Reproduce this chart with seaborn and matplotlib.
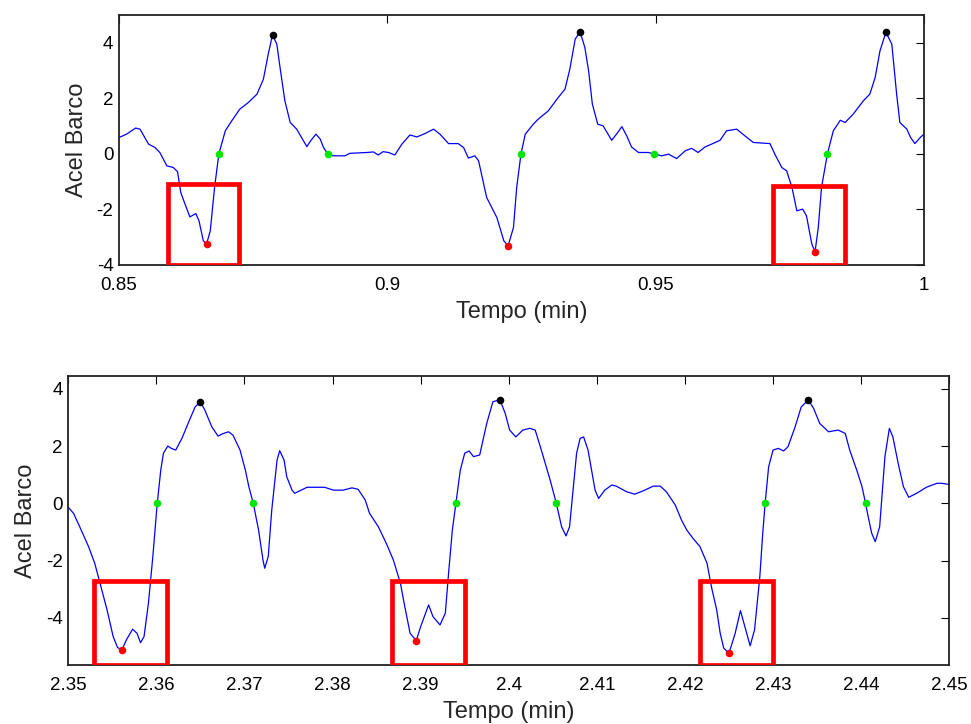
import numpy as np
import pandas as pd
import matplotlib
matplotlib.use("Agg")
import matplotlib.pyplot as plt
from matplotlib.patches import Rectangle
import seaborn as sns

# ---------------- upper window: 0.85 - 1.00 min ----------------
t_top = [0.8500, 0.8514, 0.8531, 0.8539, 0.8555, 0.8567, 0.8576, 0.8589, 0.8601, 0.8609,
         0.8615, 0.8623, 0.8632, 0.8643, 0.8649, 0.8657, 0.8663, 0.8670, 0.8678, 0.8686,
         0.8698, 0.8710, 0.8725, 0.8741, 0.8757, 0.8769, 0.8778, 0.8786, 0.8794, 0.8800,
         0.8809, 0.8819, 0.8831, 0.8840, 0.8850, 0.8857, 0.8867, 0.8875, 0.8881, 0.8889,
         0.8899, 0.8921, 0.8930, 0.8962, 0.8974, 0.8983, 0.8992, 0.9002, 0.9014, 0.9027,
         0.9042, 0.9055, 0.9070, 0.9086, 0.9098, 0.9114, 0.9132, 0.9142, 0.9151, 0.9163,
         0.9170, 0.9185, 0.9204, 0.9217, 0.9225, 0.9235, 0.9241, 0.9249, 0.9257, 0.9272,
         0.9281, 0.9300, 0.9316, 0.9331, 0.9340, 0.9350, 0.9359, 0.9368, 0.9375, 0.9382,
         0.9392, 0.9402, 0.9418, 0.9427, 0.9437, 0.9446, 0.9455, 0.9468, 0.9486, 0.9497,
         0.9511, 0.9524, 0.9539, 0.9555, 0.9567, 0.9579, 0.9592, 0.9604, 0.9620, 0.9632,
         0.9651, 0.9670, 0.9682, 0.9713, 0.9722, 0.9735, 0.9744, 0.9754, 0.9763, 0.9774,
         0.9781, 0.9791, 0.9797, 0.9803, 0.9809, 0.9820, 0.9831, 0.9844, 0.9853, 0.9868,
         0.9887, 0.9899, 0.9909, 0.9918, 0.9929, 0.9940, 0.9949, 0.9955, 0.9968, 0.9975,
         0.9983, 0.9993, 1.0000]
a_top = [0.59, 0.71, 0.93, 0.89, 0.35, 0.23, 0.05, -0.43, -0.49, -0.64,
         -1.39, -1.81, -2.27, -2.15, -2.41, -3.13, -3.25, -2.77, -1.21, 0.00,
         0.83, 1.19, 1.61, 1.85, 2.15, 2.69, 3.59, 4.29, 3.95, 3.11,
         1.91, 1.13, 0.89, 0.59, 0.26, 0.47, 0.71, 0.53, 0.23, 0.00,
         -0.07, -0.07, 0.02, 0.05, 0.07, -0.04, 0.08, 0.05, -0.04, 0.35,
         0.68, 0.61, 0.73, 0.89, 0.71, 0.37, 0.37, 0.23, -0.15, -0.07,
         -0.25, -1.57, -2.29, -3.13, -3.31, -2.65, -1.21, 0.00, 0.71, 1.07,
         1.25, 1.55, 1.97, 2.33, 3.05, 4.13, 4.40, 3.83, 2.99, 1.79,
         1.07, 1.01, 0.49, 0.71, 0.98, 0.65, 0.25, 0.05, 0.05, 0.00,
         -0.07, -0.01, -0.17, 0.11, 0.20, 0.05, 0.25, 0.35, 0.49, 0.83,
         0.89, 0.59, 0.41, 0.37, -0.01, -0.49, -0.61, -1.21, -2.05, -1.99,
         -2.23, -3.25, -3.52, -2.65, -1.21, 0.00, 0.83, 1.21, 1.13, 1.43,
         1.91, 2.15, 2.75, 3.71, 4.38, 3.95, 2.15, 1.13, 0.89, 0.59,
         0.37, 0.59, 0.71]

top_max_t = [0.8786, 0.9359, 0.9929]
top_max_a = [4.29, 4.40, 4.38]
top_min_t = [0.8663, 0.9225, 0.9797]
top_min_a = [-3.25, -3.31, -3.52]
top_zero_t = [0.8686, 0.8889, 0.9249, 0.9497, 0.9820]
top_zero_a = [0.0, 0.0, 0.0, 0.0, 0.0]

# highlighted windows: (start, end, upper level)
top_boxes = [(0.8591, 0.8723, -1.08), (0.9718, 0.9853, -1.14)]

# ---------------- lower window: 2.35 - 2.45 min ----------------
t_bot = [2.3500, 2.3506, 2.3513, 2.3523, 2.3530, 2.3536, 2.3544, 2.3551, 2.3556, 2.3561,
         2.3566, 2.3573, 2.3578, 2.3582, 2.3586, 2.3591, 2.3596, 2.3601, 2.3605, 2.3608,
         2.3613, 2.3617, 2.3622, 2.3629, 2.3636, 2.3644, 2.3650, 2.3655, 2.3663, 2.3670,
         2.3676, 2.3682, 2.3687, 2.3695, 2.3701, 2.3705, 2.3710, 2.3716, 2.3721, 2.3723,
         2.3727, 2.3731, 2.3737, 2.3740, 2.3745, 2.3748, 2.3754, 2.3757, 2.3763, 2.3771,
         2.3791, 2.3801, 2.3812, 2.3822, 2.3829, 2.3837, 2.3842, 2.3852, 2.3861, 2.3869,
         2.3877, 2.3882, 2.3888, 2.3895, 2.3900, 2.3909, 2.3914, 2.3922, 2.3928, 2.3932,
         2.3936, 2.3940, 2.3945, 2.3950, 2.3955, 2.3960, 2.3967, 2.3975, 2.3982, 2.3990,
         2.3996, 2.4001, 2.4008, 2.4016, 2.4024, 2.4030, 2.4037, 2.4047, 2.4054, 2.4060,
         2.4065, 2.4069, 2.4077, 2.4081, 2.4085, 2.4090, 2.4098, 2.4102, 2.4109, 2.4117,
         2.4122, 2.4134, 2.4143, 2.4153, 2.4164, 2.4172, 2.4179, 2.4189, 2.4196, 2.4202,
         2.4209, 2.4217, 2.4225, 2.4230, 2.4236, 2.4240, 2.4244, 2.4250, 2.4257, 2.4263,
         2.4268, 2.4274, 2.4279, 2.4285, 2.4288, 2.4291, 2.4295, 2.4300, 2.4306, 2.4312,
         2.4317, 2.4325, 2.4332, 2.4340, 2.4346, 2.4353, 2.4363, 2.4374, 2.4382, 2.4387,
         2.4395, 2.4401, 2.4405, 2.4408, 2.4412, 2.4416, 2.4421, 2.4427, 2.4432, 2.4436,
         2.4442, 2.4448, 2.4454, 2.4463, 2.4474, 2.4486, 2.4491, 2.4500]
a_bot = [-0.14, -0.35, -0.82, -1.51, -2.09, -2.79, -3.72, -4.66, -5.04, -5.12,
         -4.77, -4.40, -4.54, -4.87, -4.66, -3.49, -1.86, 0.00, 1.16, 1.75,
         2.00, 1.92, 1.86, 2.27, 2.79, 3.37, 3.55, 3.26, 2.67, 2.35,
         2.44, 2.50, 2.38, 1.86, 1.16, 0.58, 0.00, -0.93, -1.98, -2.27,
         -1.86, -0.23, 1.51, 1.84, 1.51, 0.93, 0.46, 0.35, 0.44, 0.56,
         0.56, 0.46, 0.46, 0.54, 0.49, 0.12, -0.35, -0.82, -1.40, -1.98,
         -2.79, -3.61, -4.54, -4.80, -4.31, -3.55, -3.96, -4.25, -3.84, -2.33,
         -0.93, 0.00, 1.16, 1.75, 1.83, 1.63, 1.69, 2.79, 3.55, 3.62,
         3.14, 2.56, 2.32, 2.56, 2.62, 2.56, 1.86, 0.81, 0.00, -0.82,
         -1.14, -0.82, 1.75, 2.27, 2.32, 1.86, 0.46, 0.17, 0.46, 0.64,
         0.60, 0.40, 0.32, 0.44, 0.60, 0.60, 0.40, -0.06, -0.58, -0.93,
         -1.22, -1.51, -2.09, -2.91, -3.72, -4.54, -5.06, -5.24, -4.54, -3.75,
         -4.31, -4.98, -4.42, -2.56, -1.17, 0.00, 1.28, 1.86, 1.92, 1.83,
         1.98, 2.67, 3.37, 3.61, 3.32, 2.79, 2.50, 2.56, 2.44, 1.86,
         1.16, 0.58, 0.00, -0.47, -1.05, -1.34, -0.82, 1.63, 2.62, 2.32,
         1.40, 0.58, 0.21, 0.35, 0.56, 0.70, 0.70, 0.66]

bot_max_t = [2.3650, 2.3990, 2.4340]
bot_max_a = [3.55, 3.62, 3.61]
bot_min_t = [2.3561, 2.3895, 2.4250]
bot_min_a = [-5.12, -4.80, -5.24]
bot_zero_t = [2.3601, 2.3710, 2.3940, 2.4054, 2.4291, 2.4405]
bot_zero_a = [0.0, 0.0, 0.0, 0.0, 0.0, 0.0]

bot_boxes = [(2.3529, 2.3612, -2.72), (2.3868, 2.3950, -2.72), (2.4217, 2.4300, -2.72)]

x_label = "Tempo (min)"
y_label = "Acel Barco"

sns.set_style("white")
plt.rcParams["font.family"] = ["Liberation Sans", "DejaVu Sans"]

fig = plt.figure(figsize=(9.71, 7.24), dpi=100)
ax_top = fig.add_axes([0.1226, 0.634, 0.829, 0.3453])
ax_bot = fig.add_axes([0.0703, 0.0815, 0.9073, 0.3992])

GREEN = "#00e600"


def draw_panel(ax, t, a, tmax, amax, tmin, amin, tzero, azero, boxes,
               xlim, ylim, xticks, xticklabels):
    sig = pd.DataFrame({"t": t, "a": a})
    sns.lineplot(data=sig, x="t", y="a", ax=ax, color="blue", lw=0.9,
                 sort=False, estimator=None, zorder=2)
    for box_t0, box_t1, box_top in boxes:
        ax.add_patch(Rectangle((box_t0, ylim[0]), box_t1 - box_t0, box_top - ylim[0],
                               fill=False, edgecolor="red", lw=3.4, zorder=4))
    sns.scatterplot(x=tzero, y=azero, ax=ax, color=GREEN, s=30, linewidth=0, zorder=5)
    sns.scatterplot(x=tmin, y=amin, ax=ax, color="red", s=30, linewidth=0, zorder=5)
    sns.scatterplot(x=tmax, y=amax, ax=ax, color="black", s=30, linewidth=0, zorder=5)
    ax.set_xlim(*xlim)
    ax.set_ylim(*ylim)
    ax.set_xticks(xticks)
    ax.set_xticklabels(xticklabels)
    ax.set_yticks([-4, -2, 0, 2, 4])
    ax.set_yticklabels(["-4", "-2", "0", "2", "4"])
    ax.tick_params(direction="in", top=True, right=True, length=6, width=0.8,
                   labelsize=13.5, colors="black")
    ax.tick_params(axis="x", pad=9)
    ax.tick_params(axis="y", pad=4)
    for s in ax.spines.values():
        s.set_linewidth(1.3)
        s.set_color("#222222")
        s.set_visible(True)
    ax.set_xlabel(x_label, fontsize=17, labelpad=5)
    ax.set_ylabel(y_label, fontsize=17, labelpad=6)
    ax.set_facecolor("white")


draw_panel(ax_top, t_top, a_top, top_max_t, top_max_a, top_min_t, top_min_a,
           top_zero_t, top_zero_a, top_boxes, (0.85, 1.0), (-4.0, 5.0),
           [0.85, 0.9, 0.95, 1.0], ["0.85", "0.9", "0.95", "1"])
draw_panel(ax_bot, t_bot, a_bot, bot_max_t, bot_max_a, bot_min_t, bot_min_a,
           bot_zero_t, bot_zero_a, bot_boxes, (2.35, 2.45), (-5.65, 4.45),
           [2.35, 2.36, 2.37, 2.38, 2.39, 2.40, 2.41, 2.42, 2.43, 2.44, 2.45],
           ["2.35", "2.36", "2.37", "2.38", "2.39", "2.4", "2.41", "2.42", "2.43", "2.44", "2.45"])

fig.savefig("out.png", dpi=100, facecolor="white")
